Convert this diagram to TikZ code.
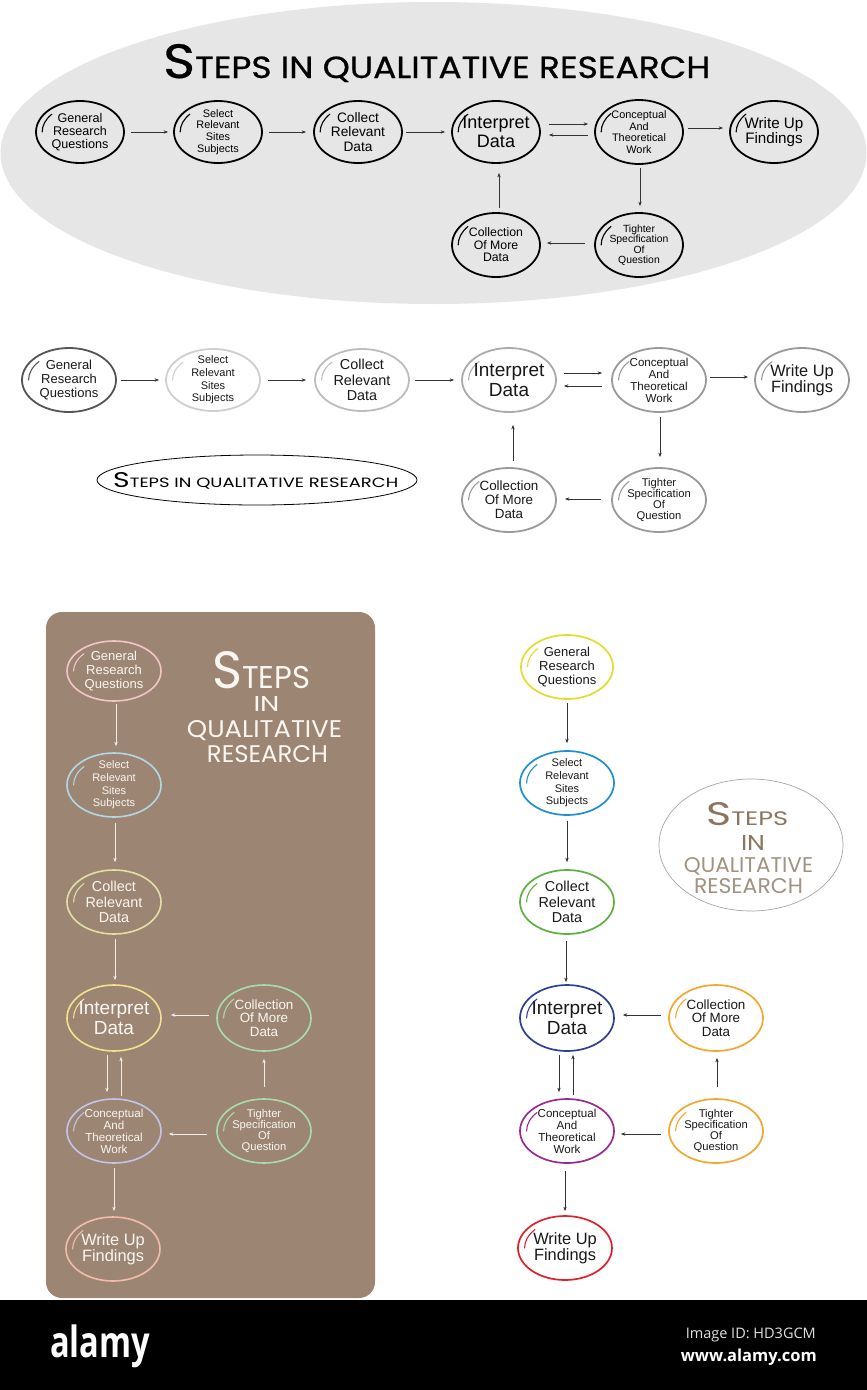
\documentclass[tikz,border=0pt]{standalone}
\usepackage{fontspec}
\usepackage{graphicx}
\setmainfont{Liberation Sans}
\newfontfamily\titlefont{Poppins}
\newfontfamily\titlefontm[FakeBold=0.6]{Poppins}
\newfontfamily\footfont{Open Sans}
\usetikzlibrary{shapes.geometric,arrows.meta}

\definecolor{bgGray}{HTML}{E6E6E6}
\definecolor{brownBg}{HTML}{9C8673}
\definecolor{dTitleA}{HTML}{8B7560}
\definecolor{dTitleB}{HTML}{A09282}
% diagram 2 borders
\definecolor{bOne}{HTML}{555555}
\definecolor{bTwo}{HTML}{CFCFCF}
\definecolor{bThree}{HTML}{BDBDBD}
\definecolor{bFour}{HTML}{ABABAB}
\definecolor{bFive}{HTML}{9A9A9A}
% diagram 3 borders
\definecolor{cPink}{HTML}{F4C4CA}
\definecolor{cBlue}{HTML}{B2D8E6}
\definecolor{cLime}{HTML}{E0E0A6}
\definecolor{cYellow}{HTML}{F4E08E}
\definecolor{cGreen}{HTML}{AADCAA}
\definecolor{cLav}{HTML}{C4C4EA}
\definecolor{cSalmon}{HTML}{F4BAAA}
\definecolor{cArrow}{HTML}{F2ECE6}
\definecolor{cText}{HTML}{FAF6F2}
% diagram 4 borders
\definecolor{dYellow}{HTML}{E2DC2A}
\definecolor{dBlue}{HTML}{1E8FD0}
\definecolor{dGreen}{HTML}{5DB040}
\definecolor{dNavy}{HTML}{2E3F94}
\definecolor{dOrange}{HTML}{F2A830}
\definecolor{dPurple}{HTML}{9A2A92}
\definecolor{dRed}{HTML}{E0202C}

\tikzset{
  arr/.style={-{Stealth[length=4.5pt,width=3.4pt]}, line width=0.6pt, draw=#1},
  % diagram 1 fonts
  gG/.style={font=\fontsize{12.6}{13}\selectfont},
  gS/.style={font=\fontsize{10.9}{11.7}\selectfont},
  gC/.style={font=\fontsize{13.7}{14.5}\selectfont},
  gI/.style={font=\fontsize{18}{19}\selectfont},
  gK/.style={font=\fontsize{10.9}{11.5}\selectfont},
  gW/.style={font=\fontsize{15.2}{15}\selectfont},
  gM/.style={font=\fontsize{12.3}{12.5}\selectfont},
  gT/.style={font=\fontsize{10.4}{10.5}\selectfont},
  % diagrams 2-4 fonts
  fG/.style={font=\fontsize{13}{13.6}\selectfont},
  fS/.style={font=\fontsize{11}{12.6}\selectfont},
  fC/.style={font=\fontsize{14.4}{15.8}\selectfont},
  fI/.style={font=\fontsize{19}{20.5}\selectfont},
  fK/.style={font=\fontsize{11.6}{12}\selectfont},
  fW/.style={font=\fontsize{16.4}{16.2}\selectfont},
  fM/.style={font=\fontsize{13.4}{13.8}\selectfont},
  fT/.style={font=\fontsize{11.2}{11.2}\selectfont},
  ttl/.style={inner sep=0pt, font=\titlefont},
}

% #1 name, #2 x, #3 y, #4 rx, #5 ry, #6 border colour, #7 font style, #8 text
\newcommand\qstep[8]{%
  \pgfmathsetmacro\hrx{0.86*#4}\pgfmathsetmacro\hry{0.86*#5}%
  \node[ellipse, draw=#6, line width=\qlw, inner sep=0pt,
        minimum width=2*#4 pt, minimum height=2*#5 pt] (#1) at (#2,-#3) {};
  \draw[#6, line width=1.1pt, line cap=round]
    ([shift={(138:\hrx pt and \hry pt)}]#1.center)
    arc[start angle=138, end angle=180, x radius=\hrx pt, y radius=\hry pt];
  \node[#7, text=\qtc, align=center, inner sep=0pt] (#1t) at (#1.center) {#8};
}

\begin{document}
\begin{tikzpicture}[x=1pt,y=1pt]
\useasboundingbox (0,0) rectangle (867,-1390);
\fill[white] (0,0) rectangle (867,-1390);

% ================= Diagram 1 =================
\fill[bgGray] (433.5,-153) ellipse [x radius=433pt, y radius=151pt];
\node[inner sep=0pt, anchor=base west, text=black] (aTitle) at (163,-78)
  {\resizebox{547pt}{34pt}{\titlefontm{\fontsize{52}{52}\selectfont S}\fontsize{33}{33}\selectfont TEPS IN QUALITATIVE RESEARCH}};
\def\qlw{1.8pt}\def\qtc{black}
\qstep{aG}{80}{132}{44}{31}{black}{gG}{General\\Research\\Questions}
\qstep{aS}{218}{132}{44}{31}{black}{gS}{Select\\Relevant\\Sites\\Subjects}
\qstep{aC}{358}{132}{44}{31}{black}{gC}{Collect\\Relevant\\Data}
\qstep{aI}{496}{132}{44}{31}{black}{gI}{Interpret\\Data}
\qstep{aK}{639}{132}{44}{32}{black}{gK}{Conceptual\\And\\Theoretical\\Work}
\qstep{aW}{774}{132}{44}{31}{black}{gW}{Write Up\\Findings}
\qstep{aM}{496}{245}{44}{32}{black}{gM}{Collection\\Of More\\Data}
\qstep{aT}{639}{245}{44}{32}{black}{gT}{Tighter\\Specification\\Of\\Question}
\draw[arr=black!80] ([xshift=6pt]aG.east) -- ([xshift=-5pt]aS.west);
\draw[arr=black!80] ([xshift=6pt]aS.east) -- ([xshift=-7pt]aC.west);
\draw[arr=black!80] ([xshift=3pt]aC.east) -- ([xshift=-6pt]aI.west);
\draw[arr=black!80] ([shift={(8pt,8pt)}]aI.east) -- ([shift={(-6pt,8pt)}]aK.west);
\draw[arr=black!80] ([shift={(-6pt,-3pt)}]aK.west) -- ([shift={(8pt,-3pt)}]aI.east);
\draw[arr=black!80] ([shift={(4pt,4pt)}]aK.east) -- ([shift={(-6pt,4pt)}]aW.west);
\draw[arr=black!80] ([shift={(1pt,-3pt)}]aK.south) -- ([shift={(1pt,6pt)}]aT.north);
\draw[arr=black!80] ([shift={(-9pt,2pt)}]aT.west) -- ([shift={(6pt,2pt)}]aM.east);
\draw[arr=black!80] ([shift={(3pt,4pt)}]aM.north) -- ([shift={(3pt,-9pt)}]aI.south);

% ================= Diagram 2 =================
\def\qlw{1.8pt}\def\qtc{black!90}
\qstep{bG}{69}{380}{47}{32}{bOne}{fG}{General\\Research\\Questions}
\qstep{bS}{213}{380}{47}{31}{bTwo}{fS}{Select\\Relevant\\Sites\\Subjects}
\qstep{bC}{362}{380}{47}{31}{bThree}{fC}{Collect\\Relevant\\Data}
\qstep{bI}{509}{380}{47}{32}{bFour}{fI}{Interpret\\Data}
\qstep{bK}{659}{380}{47}{32}{bFive}{fK}{Conceptual\\And\\Theoretical\\Work}
\qstep{bW}{802}{380}{47}{32}{bFive}{fW}{Write Up\\Findings}
\qstep{bM}{509}{500}{47}{32}{bFive}{fM}{Collection\\Of More\\Data}
\qstep{bT}{659}{500}{47}{32}{bFive}{fT}{Tighter\\Specification\\Of\\Question}
\draw[arr=black!80] ([xshift=4pt]bG.east) -- ([xshift=-6pt]bS.west);
\draw[arr=black!80] ([xshift=7pt]bS.east) -- ([xshift=-8pt]bC.west);
\draw[arr=black!80] ([xshift=5pt]bC.east) -- ([xshift=-7pt]bI.west);
\draw[arr=black!80] ([shift={(7pt,7pt)}]bI.east) -- ([shift={(-9pt,7pt)}]bK.west);
\draw[arr=black!80] ([shift={(-9pt,-6pt)}]bK.west) -- ([shift={(7pt,-6pt)}]bI.east);
\draw[arr=black!80] ([shift={(3pt,3pt)}]bK.east) -- ([shift={(-6pt,3pt)}]bW.west);
\draw[arr=black!80] ([shift={(1pt,-4pt)}]bK.south) -- ([shift={(1pt,10pt)}]bT.north);
\draw[arr=black!80] ([shift={(-10pt,1pt)}]bT.west) -- ([shift={(8pt,1pt)}]bM.east);
\draw[arr=black!80] ([shift={(4pt,6pt)}]bM.north) -- ([shift={(4pt,-12pt)}]bI.south);
\node[ellipse, draw=black, line width=0.8pt, minimum width=320pt, minimum height=50pt] (bTitle) at (257,-480) {};
\node[ttl, anchor=base west, text=black] (bTitleText) at (113,-487)
  {\resizebox{285pt}{15pt}{{\fontsize{52}{52}\selectfont S}\fontsize{33}{33}\selectfont TEPS IN QUALITATIVE RESEARCH}};

% ================= Diagram 3 =================
\fill[brownBg, rounded corners=16pt] (46,-612) rectangle (375,-1298);
\node[ttl, anchor=base west, text=cText] (cT1) at (212,-688)
  {\raisebox{0pt}[\height][0pt]{\resizebox{98pt}{37pt}{{\fontsize{40}{40}\selectfont S}\fontsize{24}{24}\selectfont TEPS}}};
\node[ttl, anchor=base, text=cText] (cT2) at (266.5,-711) {\resizebox{26pt}{15pt}{IN}};
\node[ttl, anchor=base, text=cText] (cT3) at (264.5,-737) {\resizebox{155pt}{17pt}{QUALITATIVE}};
\node[ttl, anchor=base, text=cText] (cT4) at (267.5,-762) {\resizebox{121pt}{17pt}{RESEARCH}};
\def\qlw{1.6pt}\def\qtc{cText}
\qstep{cG}{114}{671}{47}{30}{cPink}{fG}{General\\Research\\Questions}
\qstep{cS}{114}{785}{47}{32}{cBlue}{fS}{Select\\Relevant\\Sites\\Subjects}
\qstep{cC}{114}{902}{47}{32}{cLime}{fC}{Collect\\Relevant\\Data}
\qstep{cI}{114}{1018}{47}{33}{cYellow}{fI}{Interpret\\Data}
\qstep{cK}{114}{1131}{47}{32}{cLav}{fK}{Conceptual\\And\\Theoretical\\Work}
\qstep{cW}{113}{1249}{47}{32}{cSalmon}{fW}{Write Up\\Findings}
\qstep{cM}{264}{1018}{47}{33}{cGreen}{fM}{Collection\\Of More\\Data}
\qstep{cT}{264}{1131}{47}{32}{cGreen}{fT}{Tighter\\Specification\\Of\\Question}
\draw[arr=cArrow] ([shift={(2pt,-2pt)}]cG.south) -- ([shift={(2pt,6pt)}]cS.north);
\draw[arr=cArrow] ([shift={(1pt,-5pt)}]cS.south) -- ([shift={(1pt,7pt)}]cC.north);
\draw[arr=cArrow] ([shift={(1pt,-4pt)}]cC.south) -- ([shift={(1pt,4pt)}]cI.north);
\draw[arr=cArrow] ([shift={(-7pt,-3pt)}]cI.south) -- ([shift={(-7pt,6pt)}]cK.north);
\draw[arr=cArrow] ([shift={(7pt,2pt)}]cK.north) -- ([shift={(7pt,-5pt)}]cI.south);
\draw[arr=cArrow] ([shift={(-7pt,3pt)}]cM.west) -- ([shift={(9pt,3pt)}]cI.east);
\draw[arr=cArrow] ([shift={(0pt,11pt)}]cT.north) -- ([shift={(0pt,-7pt)}]cM.south);
\draw[arr=cArrow] ([shift={(-9pt,-3pt)}]cT.west) -- ([shift={(7pt,-3pt)}]cK.east);
\draw[arr=cArrow] ([shift={(0pt,-4pt)}]cK.south) -- ([shift={(1pt,5pt)}]cW.north);

% ================= Diagram 4 =================
\node[ellipse, draw=black!35, line width=0.7pt, minimum width=184pt, minimum height=132pt] (dTitle) at (751,-845) {};
\node[ttl, anchor=base west, text=dTitleA] (dT1) at (706,-825)
  {\raisebox{0pt}[\height][0pt]{\resizebox{82pt}{23pt}{{\fontsize{40}{40}\selectfont S}\fontsize{24}{24}\selectfont TEPS}}};
\node[ttl, anchor=base, text=dTitleA] (dT2) at (753,-850) {\resizebox{24pt}{15pt}{IN}};
\node[ttl, anchor=base, text=dTitleB] (dT3) at (748.5,-872) {\resizebox{129pt}{15pt}{QUALITATIVE}};
\node[ttl, anchor=base, text=dTitleB] (dT4) at (748.5,-893) {\resizebox{109pt}{15pt}{RESEARCH}};
\def\qlw{1.7pt}\def\qtc{black!90}
\qstep{dG}{567}{667}{46}{32}{dYellow}{fG}{General\\Research\\Questions}
\qstep{dS}{567}{783}{47}{32}{dBlue}{fS}{Select\\Relevant\\Sites\\Subjects}
\qstep{dC}{567}{902}{47}{32}{dGreen}{fC}{Collect\\Relevant\\Data}
\qstep{dI}{567}{1018}{47}{33}{dNavy}{fI}{Interpret\\Data}
\qstep{dK}{567}{1131}{47}{32}{dPurple}{fK}{Conceptual\\And\\Theoretical\\Work}
\qstep{dW}{565}{1248}{47}{32}{dRed}{fW}{Write Up\\Findings}
\qstep{dM}{716}{1018}{47}{33}{dOrange}{fM}{Collection\\Of More\\Data}
\qstep{dT}{716}{1131}{47}{32}{dOrange}{fT}{Tighter\\Specification\\Of\\Question}
\draw[arr=black!80] ([shift={(0pt,-3pt)}]dG.south) -- ([shift={(0pt,7pt)}]dS.north);
\draw[arr=black!80] ([shift={(0pt,-5pt)}]dS.south) -- ([shift={(0pt,7pt)}]dC.north);
\draw[arr=black!80] ([shift={(-1pt,-6pt)}]dC.south) -- ([shift={(-1pt,2pt)}]dI.north);
\draw[arr=black!80] ([shift={(-8pt,-3pt)}]dI.south) -- ([shift={(-8pt,6pt)}]dK.north);
\draw[arr=black!80] ([shift={(6pt,3pt)}]dK.north) -- ([shift={(6pt,-3pt)}]dI.south);
\draw[arr=black!80] ([shift={(-7pt,3pt)}]dM.west) -- ([shift={(8pt,3pt)}]dI.east);
\draw[arr=black!80] ([shift={(1pt,11pt)}]dT.north) -- ([shift={(1pt,-6pt)}]dM.south);
\draw[arr=black!80] ([shift={(-7pt,-3pt)}]dT.west) -- ([shift={(6pt,-3pt)}]dK.east);
\draw[arr=black!80] ([shift={(-2pt,-7pt)}]dK.south) -- ([shift={(0pt,4pt)}]dW.north);

% ================= Footer =================
\fill[black] (0,-1300) rectangle (867,-1390);
\node[anchor=north west, inner sep=0pt, text=white] (fLogo) at (50,-1325)
  {\resizebox*{100pt}{43pt}{\footfont\bfseries alamy}};
\node[anchor=base east, inner sep=0pt, text=white!88!black] (fId) at (816,-1338)
  {\resizebox{130pt}{!}{\footfont Image ID: HD3GCM}};
\node[anchor=base east, inner sep=0pt, text=white] (fUrl) at (817,-1361)
  {\resizebox{136pt}{!}{\footfont\bfseries www.alamy.com}};
\end{tikzpicture}
\end{document}
